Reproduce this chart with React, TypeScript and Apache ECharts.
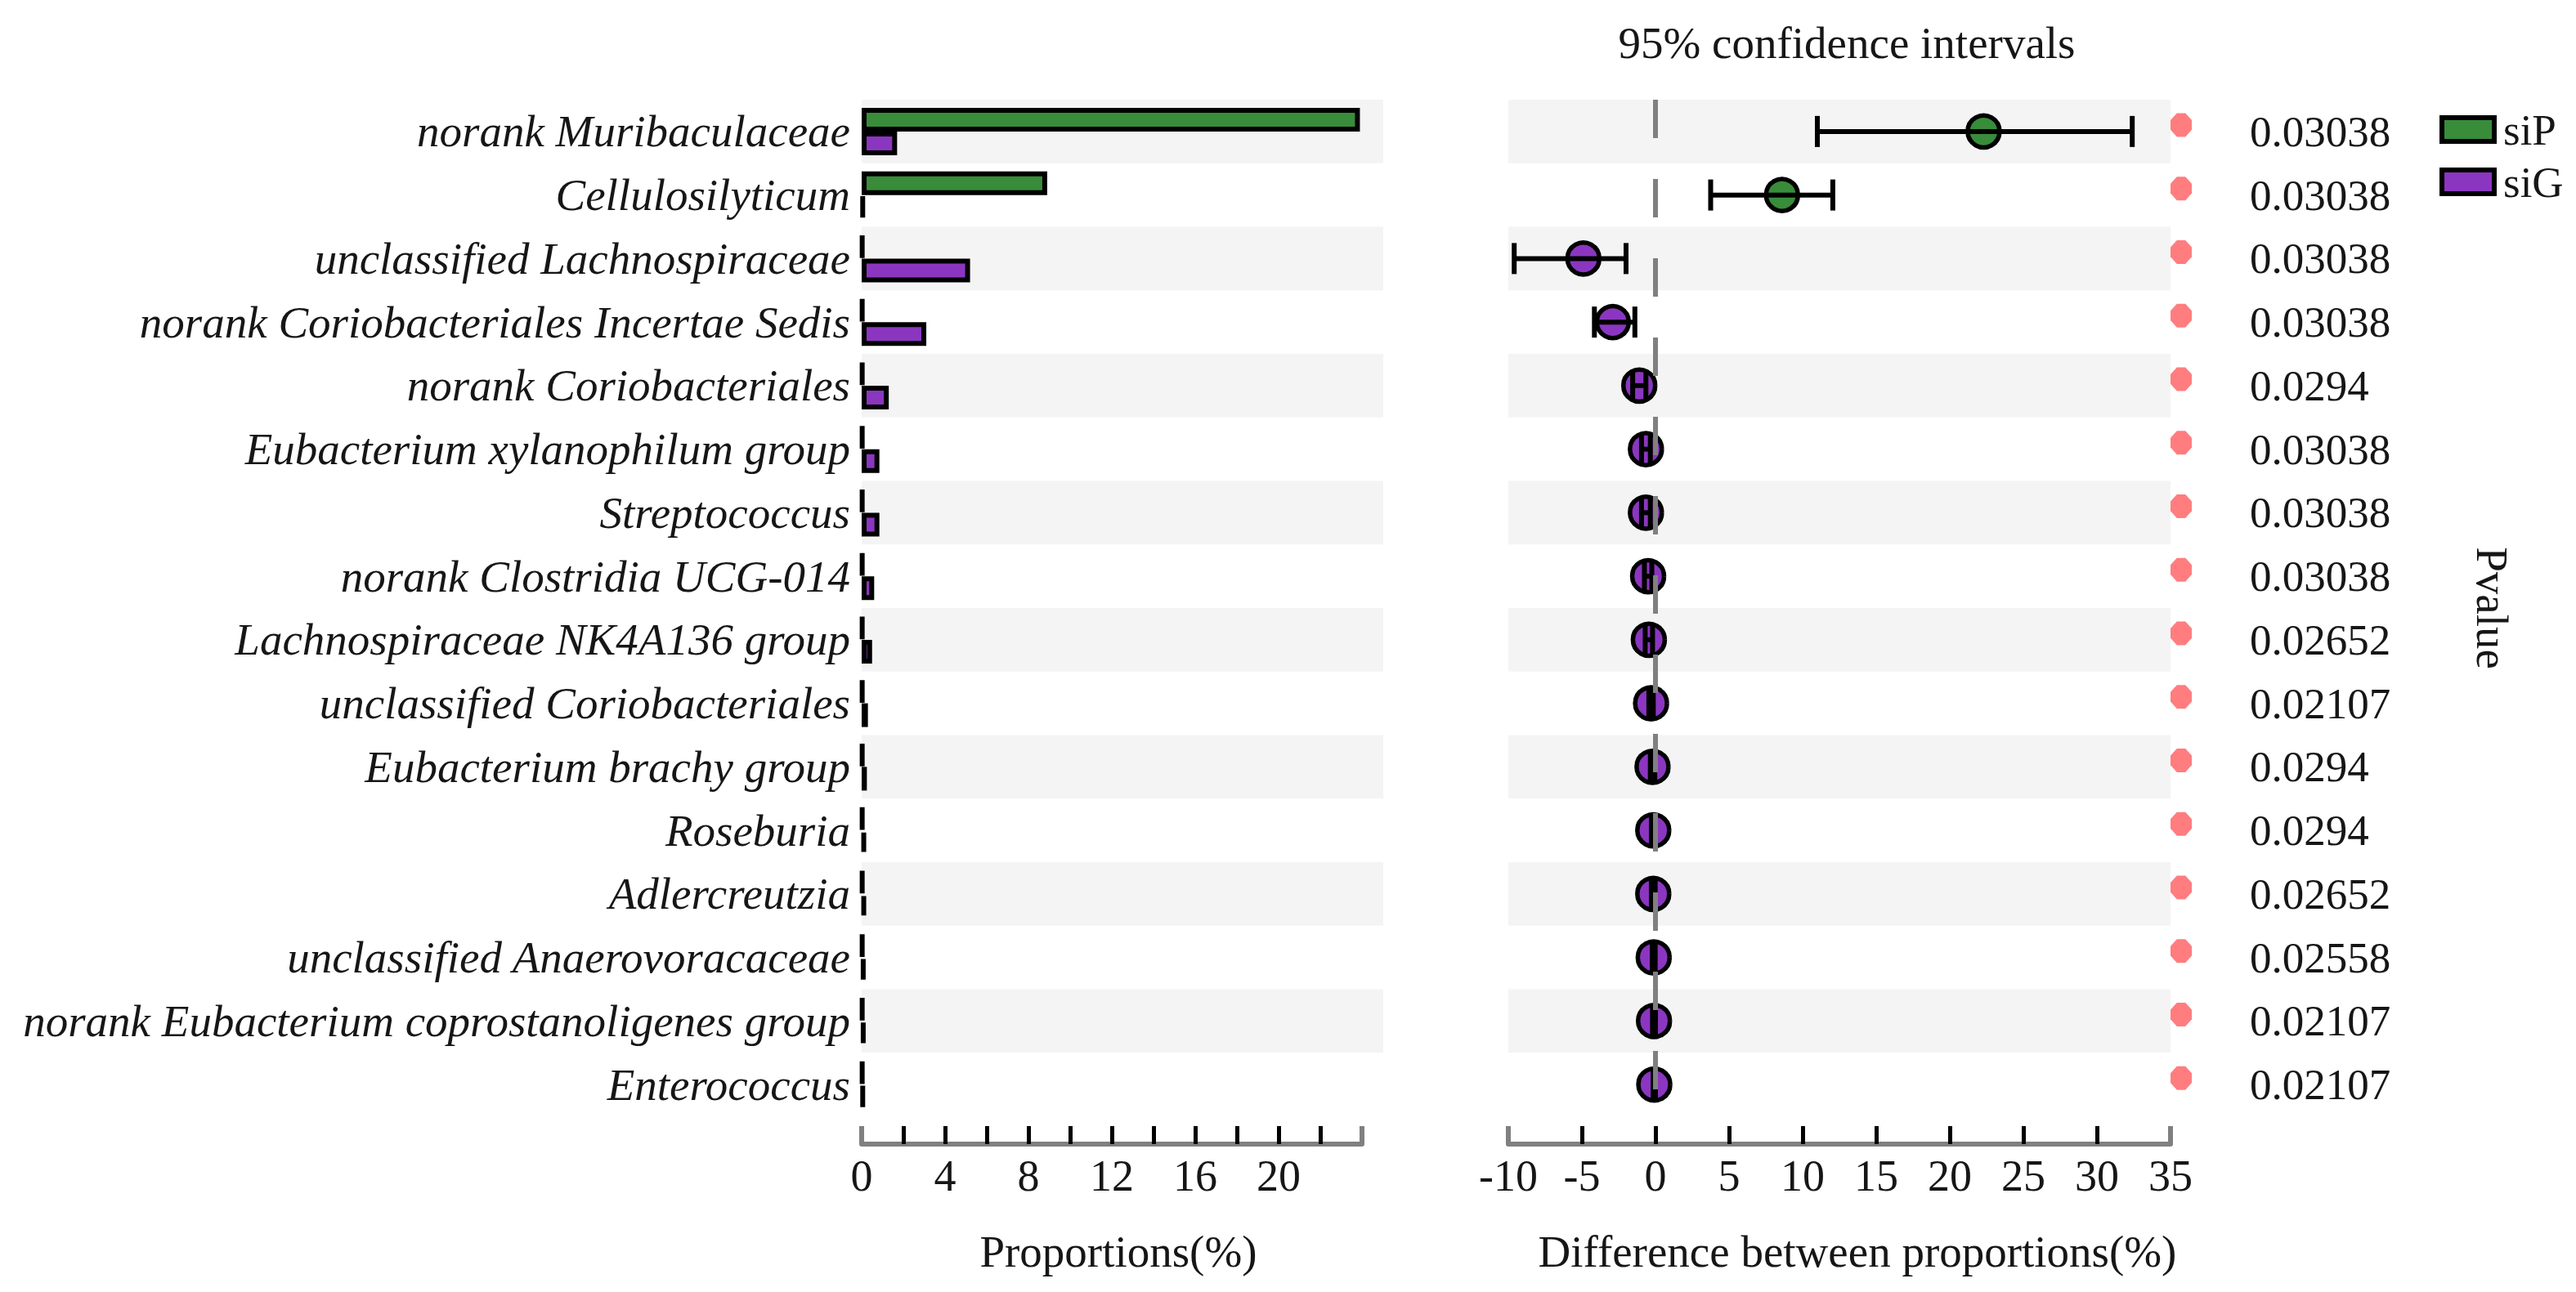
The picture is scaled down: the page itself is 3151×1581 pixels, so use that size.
import React, { useEffect, useRef } from "react";
import * as echarts from "echarts";

const categories = [
  "norank Muribaculaceae",
  "Cellulosilyticum",
  "unclassified Lachnospiraceae",
  "norank Coriobacteriales Incertae Sedis",
  "norank Coriobacteriales",
  "Eubacterium xylanophilum group",
  "Streptococcus",
  "norank Clostridia UCG-014",
  "Lachnospiraceae NK4A136 group",
  "unclassified Coriobacteriales",
  "Eubacterium brachy group",
  "Roseburia",
  "Adlercreutzia",
  "unclassified Anaerovoracaceae",
  "norank Eubacterium coprostanoligenes group",
  "Enterococcus",
];

const siP = [23.9, 8.9, 0.05, 0.05, 0.05, 0.05, 0.05, 0.05, 0.05, 0.05, 0.05, 0.05, 0.05, 0.05, 0.05, 0.05];
const siG = [1.7, 0.1, 5.2, 3.1, 1.3, 0.85, 0.85, 0.6, 0.5, 0.3, 0.25, 0.2, 0.2, 0.15, 0.15, 0.1];

const diff = [22.3, 8.6, -4.9, -2.9, -1.1, -0.65, -0.65, -0.5, -0.45, -0.3, -0.2, -0.15, -0.15, -0.12, -0.1, -0.08];
const ciLow = [11.0, 3.75, -9.6, -4.15, -1.55, -0.95, -0.95, -0.75, -0.7, -0.45, -0.35, -0.28, -0.28, -0.22, -0.2, -0.16];
const ciHigh = [32.4, 12.05, -2.0, -1.4, -0.65, -0.35, -0.35, -0.25, -0.2, -0.15, -0.05, -0.02, -0.02, -0.02, 0, 0];

const pValues = [
  "0.03038", "0.03038", "0.03038", "0.03038", "0.0294", "0.03038", "0.03038", "0.03038",
  "0.02652", "0.02107", "0.0294", "0.0294", "0.02652", "0.02558", "0.02107", "0.02107",
];

const GREEN = "#388C3A";
const PURPLE = "#8B36C0";
const FONT = "'Liberation Serif', 'Times New Roman', serif";
const TXT = "#161616";
const FS = 55;

const GRID_TOP = 122;
const GRID_H = 1244;
const LEFT_X = 1054;
const LEFT_W = 612;
const LEFT_BAND_W = 638;
const RIGHT_X = 1845;
const RIGHT_W = 810;

export default function App() {
  const ref = useRef<HTMLDivElement>(null);

  useEffect(() => {
    if (!ref.current) return;
    const chart = echarts.init(ref.current, undefined, { renderer: "svg" });

    const bandValues = categories.map((_, i) => (i % 2 === 0 ? 1 : 0));
    const hiddenAxis = { show: false };

    const axisCommon = (extra: any) => ({
      position: "bottom",
      offset: 34,
      axisLine: { show: true, lineStyle: { color: "#808080", width: 6 } },
      axisTick: { show: true, inside: true, length: 22, lineStyle: { color: "#000", width: 5 } },
      splitLine: { show: false },
      nameLocation: "middle",
      axisLabel: { fontFamily: FONT, fontSize: 54, color: TXT, margin: 12 },
      ...extra,
    });

    const endTickAxis = (gridIndex: number, min: number, max: number) => ({
      type: "value",
      gridIndex,
      min,
      max,
      interval: max - min,
      position: "bottom",
      offset: 34,
      z: 5,
      axisLine: { show: false },
      axisTick: { show: true, inside: true, length: 22, lineStyle: { color: "#808080", width: 6 } },
      axisLabel: { show: false },
      splitLine: { show: false },
    });

    const errData = diff.map((d, i) => [d, i, ciLow[i], ciHigh[i], d > 0 ? 1 : 0]);

    const option: any = {
      animation: false,
      backgroundColor: "#ffffff",
      textStyle: { fontFamily: FONT },
      title: {
        text: "95% confidence intervals",
        left: 2254,
        top: 20,
        textAlign: "center",
        textStyle: { fontFamily: FONT, fontSize: FS, fontWeight: "normal", color: TXT },
      },
      legend: {
        data: ["siP", "siG"],
        orient: "vertical",
        left: 2979,
        top: 127,
        itemWidth: 64,
        itemHeight: 29,
        itemGap: 11,
        icon: "rect",
        selectedMode: false,
        itemStyle: { borderColor: "#000", borderWidth: 6 },
        textStyle: { fontFamily: FONT, fontSize: 53, color: TXT, lineHeight: 52, padding: [0, 0, 0, 6] },
      },
      grid: [
        { left: LEFT_X, top: GRID_TOP, width: LEFT_BAND_W, height: GRID_H },
        { left: LEFT_X, top: GRID_TOP, width: LEFT_W, height: GRID_H },
        { left: RIGHT_X, top: GRID_TOP, width: RIGHT_W, height: GRID_H },
        { left: RIGHT_X, top: GRID_TOP, width: RIGHT_W, height: GRID_H },
      ],
      xAxis: [
        { type: "value", gridIndex: 0, min: 0, max: 1, ...hiddenAxis },
        axisCommon({
          type: "value",
          gridIndex: 1,
          min: 0,
          max: 24,
          interval: 2,
          name: "Proportions(%)",
          nameGap: 104,
          nameTextStyle: { fontFamily: FONT, fontSize: FS, color: TXT, padding: [0, 0, 0, 16] },
          axisLabel: {
            fontFamily: FONT,
            fontSize: 54,
            color: TXT,
            margin: 12,
            formatter: (v: number) => (v % 4 === 0 && v < 24 ? String(v) : ""),
          },
        }),
        { type: "value", gridIndex: 2, min: 0, max: 1, ...hiddenAxis },
        axisCommon({
          type: "value",
          gridIndex: 3,
          min: -10,
          max: 35,
          interval: 5,
          name: "Difference between proportions(%)",
          nameGap: 104,
          nameTextStyle: { fontFamily: FONT, fontSize: FS, color: TXT, padding: [0, 0, 0, 44] },
        }),
        endTickAxis(1, 0, 24),
        endTickAxis(3, -10, 35),
      ],
      yAxis: [
        { type: "category", gridIndex: 0, data: categories, inverse: true, ...hiddenAxis },
        {
          type: "category",
          gridIndex: 1,
          data: categories,
          inverse: true,
          axisLine: { show: false },
          axisTick: { show: false },
          splitLine: { show: false },
          axisLabel: { fontFamily: FONT, fontSize: 55, fontStyle: "italic", color: TXT, margin: 14 },
        },
        { type: "category", gridIndex: 2, data: categories, inverse: true, ...hiddenAxis },
        {
          type: "category",
          gridIndex: 3,
          data: categories,
          inverse: true,
          show: false,
        },
        {
          type: "category",
          gridIndex: 3,
          data: pValues,
          inverse: true,
          position: "right",
          axisLine: { show: false },
          axisTick: { show: false },
          splitLine: { show: false },
          axisLabel: { fontFamily: FONT, fontSize: 53, color: TXT, margin: 97, align: "left" },
          name: "Pvalue",
          nameLocation: "middle",
          nameRotate: -90,
          nameGap: 366,
          nameTextStyle: { fontFamily: FONT, fontSize: FS, color: TXT },
        },
      ],
      series: [
        {
          type: "bar",
          xAxisIndex: 0,
          yAxisIndex: 0,
          data: bandValues,
          barWidth: "100%",
          silent: true,
          itemStyle: { color: "#f4f4f4" },
          z: 0,
        },
        {
          type: "bar",
          xAxisIndex: 2,
          yAxisIndex: 2,
          data: bandValues,
          barWidth: "100%",
          silent: true,
          itemStyle: { color: "#f4f4f4" },
          z: 0,
        },
        {
          name: "siP",
          type: "bar",
          xAxisIndex: 1,
          yAxisIndex: 1,
          data: siP,
          barWidth: 29,
          barGap: "0%",
          itemStyle: { color: GREEN, borderColor: "#000", borderWidth: 6 },
          z: 3,
        },
        {
          name: "siG",
          type: "bar",
          xAxisIndex: 1,
          yAxisIndex: 1,
          data: siG,
          barWidth: 29,
          barGap: "0%",
          itemStyle: { color: PURPLE, borderColor: "#000", borderWidth: 6 },
          z: 3,
        },
        {
          type: "custom",
          xAxisIndex: 3,
          yAxisIndex: 3,
          data: errData,
          z: 4,
          renderItem: (params: any, api: any) => {
            const y = api.value(1);
            const p = api.coord([api.value(0), y]);
            const lo = api.coord([api.value(2), y]);
            const hi = api.coord([api.value(3), y]);
            const fill = api.value(4) === 1 ? GREEN : PURPLE;
            const capH = 19;
            return {
              type: "group",
              children: [
                {
                  type: "circle",
                  shape: { cx: p[0], cy: p[1], r: 19.5 },
                  style: { fill, stroke: "#000", lineWidth: 5.5 },
                },
                {
                  type: "line",
                  shape: { x1: lo[0], y1: p[1], x2: hi[0], y2: p[1] },
                  style: { stroke: "#000", lineWidth: 6 },
                },
                {
                  type: "line",
                  shape: { x1: lo[0], y1: p[1] - capH, x2: lo[0], y2: p[1] + capH },
                  style: { stroke: "#000", lineWidth: 6 },
                },
                {
                  type: "line",
                  shape: { x1: hi[0], y1: p[1] - capH, x2: hi[0], y2: p[1] + capH },
                  style: { stroke: "#000", lineWidth: 6 },
                },
              ],
            };
          },
        },
        {
          type: "line",
          xAxisIndex: 3,
          yAxisIndex: 3,
          data: [[0, 0]],
          showSymbol: false,
          lineStyle: { opacity: 0 },
          silent: true,
          z: 6,
          markLine: {
            silent: true,
            symbol: ["none", "none"],
            label: { show: false },
            lineStyle: { color: "#808080", width: 6, type: [47, 50] },
            data: [{ xAxis: 0 }],
          },
        },
        {
          type: "scatter",
          xAxisIndex: 3,
          yAxisIndex: 3,
          data: categories.map((_, i) => [35, i]),
          symbol: "path://M3,0 L7,0 L10,3 L10,7 L7,10 L3,10 L0,7 L0,3 Z",
          symbolSize: [26, 29],
          symbolOffset: [13, -8],
          clip: false,
          silent: true,
          itemStyle: { color: "#FF5C5F" },
          z: 5,
        },
      ],
    };

    chart.setOption(option);
    return () => chart.dispose();
  }, []);

  return (
    <div
      ref={ref}
      style={{ position: "fixed", left: 0, top: 0, width: 3151, height: 1581, background: "#fff" }}
    />
  );
}
